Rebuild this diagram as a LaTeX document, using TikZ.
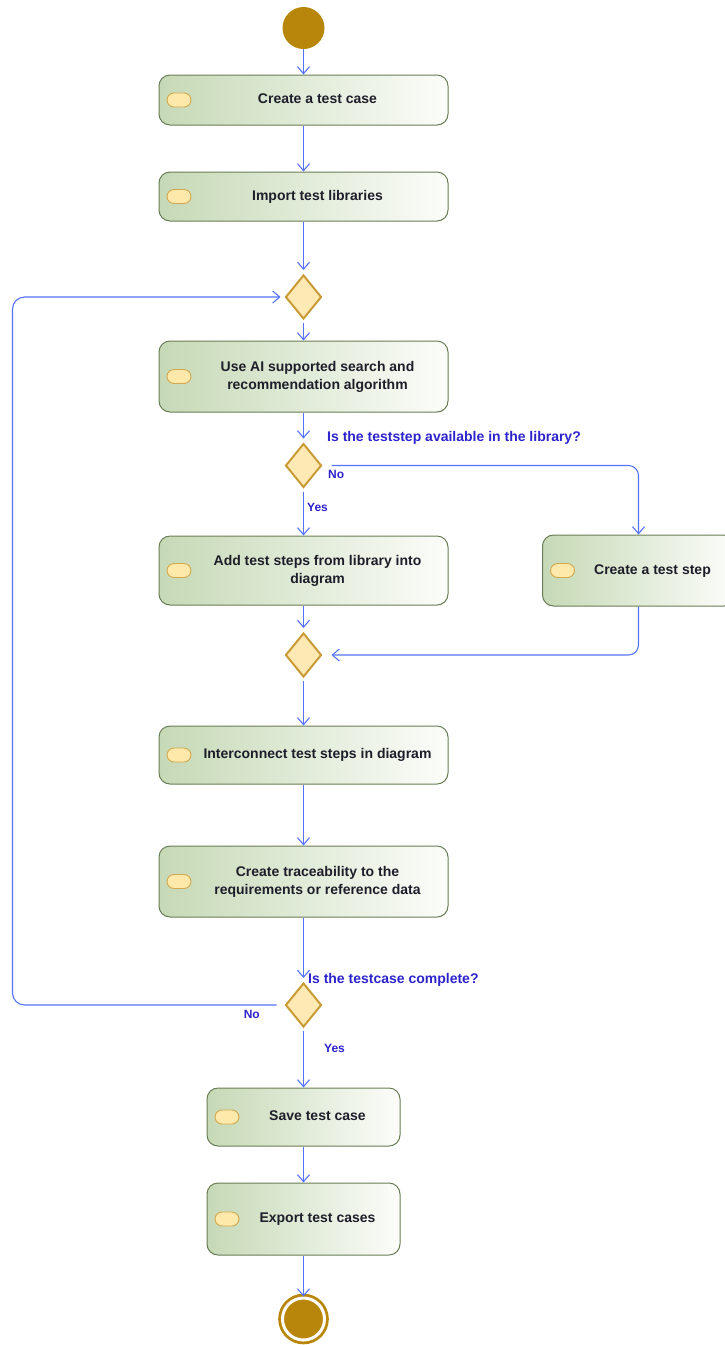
\documentclass[tikz,border=0pt]{standalone}
\usepackage{fontspec}
\setmainfont{Liberation Sans}
\usepackage{xcolor}
\usepackage{tikz}
\usetikzlibrary{shapes.geometric, arrows.meta, positioning, calc}

\definecolor{umlgold}{RGB}{184,134,11}
\definecolor{actline}{RGB}{105,125,85}
\definecolor{actgreen}{RGB}{198,217,182}
\definecolor{actwhite}{RGB}{252,253,250}
\definecolor{acttext}{RGB}{30,30,42}
\definecolor{iconfill}{RGB}{254,232,170}
\definecolor{iconline}{RGB}{212,168,78}
\definecolor{decfill}{RGB}{254,233,180}
\definecolor{decline}{RGB}{200,155,55}
\definecolor{flowblue}{RGB}{85,115,250}
\definecolor{guardblue}{RGB}{45,35,205}

\tikzstyle{action} = [draw=actline, line width=1pt, rectangle, rounded corners=11pt, left color=actgreen, right color=actwhite, minimum width=289pt, inner sep=0pt, text=acttext, font=\fontsize{14}{18}\selectfont\bfseries, path picture={\filldraw[draw=iconline, fill=iconfill, line width=0.9pt, rounded corners=7pt] ([xshift=8pt,yshift=-7pt]path picture bounding box.west) rectangle ++(24pt,14pt);}]
\tikzstyle{decision} = [diamond, draw=decline, line width=2pt, fill=decfill, minimum width=36pt, minimum height=44pt, inner sep=0pt]
\tikzstyle{flow} = [draw=flowblue, line width=1.1pt, -{Straight Barb[length=7pt,width=12pt]}]
\tikzstyle{guard} = [text=guardblue, font=\fontsize{14}{16}\selectfont\bfseries, inner sep=1pt]
\tikzstyle{answer} = [text=guardblue, font=\fontsize{12}{14}\selectfont\bfseries, inner sep=1pt]

\newcommand{\acttxt}[1]{\hspace*{28pt}\begin{tabular}{@{}c@{}}#1\end{tabular}}

\begin{document}
\begin{tikzpicture}[x=1pt, y=-1pt]
\useasboundingbox (0,0) rectangle (725,1345);

% Start / end
\node (init) at (303.5,28) [circle, fill=umlgold, minimum size=42pt, inner sep=0pt] {};
\node (final) at (303.5,1319) [circle, draw=umlgold, line width=2.8pt, double=white, double distance=3pt, fill=umlgold, minimum size=42pt, inner sep=0pt] {};

% Actions
\node (createcase) at (303.5,100) [action, minimum height=50pt] {\acttxt{Create a test case}};
\node (importlib) at (303.5,196.5) [action, minimum height=49pt] {\acttxt{Import test libraries}};
\node (aisearch) at (303.5,376.5) [action, minimum height=71pt] {\acttxt{Use AI supported search and\\recommendation algorithm}};
\node (addsteps) at (303.5,570.5) [action, minimum height=69pt] {\acttxt{Add test steps from library into\\diagram}};
\node (createstep) at (638.5,570.5) [action, minimum width=192pt, minimum height=71pt] {\acttxt{Create a test step}};
\node (interconnect) at (303.5,755) [action, minimum height=58pt] {\acttxt{Interconnect test steps in diagram}};
\node (tracereq) at (303.5,881.5) [action, minimum height=71pt] {\acttxt{Create traceability to the\\requirements or reference data}};
\node (savecase) at (303.5,1117) [action, minimum width=193pt, minimum height=58pt] {\acttxt{Save test case}};
\node (exportcases) at (303.5,1219) [action, minimum width=193pt, minimum height=72pt] {\acttxt{Export test cases}};

% Decisions / merges
\node (loopmerge) at (303.5,297) [decision] {};
\node (availcheck) at (303.5,465.5) [decision] {};
\node (stepmerge) at (303.5,655) [decision] {};
\node (completecheck) at (303.5,1005) [decision] {};
\coordinate (loopback) at (12.5,0);

% Guards
\node (availq) at (326,438) [guard, anchor=west] {Is the teststep available in the library?};
\node (availno) at (327,474) [answer, anchor=west] {No};
\node (availyes) at (306,507) [answer, anchor=west] {Yes};
\node (completeq) at (307,980) [guard, anchor=west] {Is the testcase complete?};
\node (completeno) at (261,1014) [answer, anchor=east] {No};
\node (completeyes) at (323,1048) [answer, anchor=west] {Yes};

% Flows
\draw [flow] (init) -- (createcase);
\draw [flow] (createcase) -- (importlib);
\draw [flow, shorten >=4pt] (importlib) -- (loopmerge);
\draw [flow, shorten <=3pt] (loopmerge) -- (aisearch);
\draw [flow, shorten >=4pt] (aisearch) -- (availcheck);
\draw [flow, shorten <=3pt] (availcheck) -- (addsteps);
\draw [flow, rounded corners=10pt, shorten <=9pt] (availcheck.east) -| (createstep.north);
\draw [flow, shorten >=4pt] (addsteps) -- (stepmerge);
\draw [flow, rounded corners=10pt, shorten >=9pt] (createstep.south) |- (stepmerge.east);
\draw [flow, shorten <=3pt] (stepmerge) -- (interconnect);
\draw [flow] (interconnect) -- (tracereq);
\draw [flow, shorten >=4pt] (tracereq) -- (completecheck);
\draw [flow, shorten <=3pt] (completecheck) -- (savecase);
\draw [flow, rounded corners=12pt, shorten <=8pt, shorten >=4pt] (completecheck.west) -- (loopback |- completecheck.west) -- (loopback |- loopmerge.west) -- (loopmerge.west);
\draw [flow] (savecase) -- (exportcases);
\draw [flow] (exportcases) -- (final);

\end{tikzpicture}
\end{document}
